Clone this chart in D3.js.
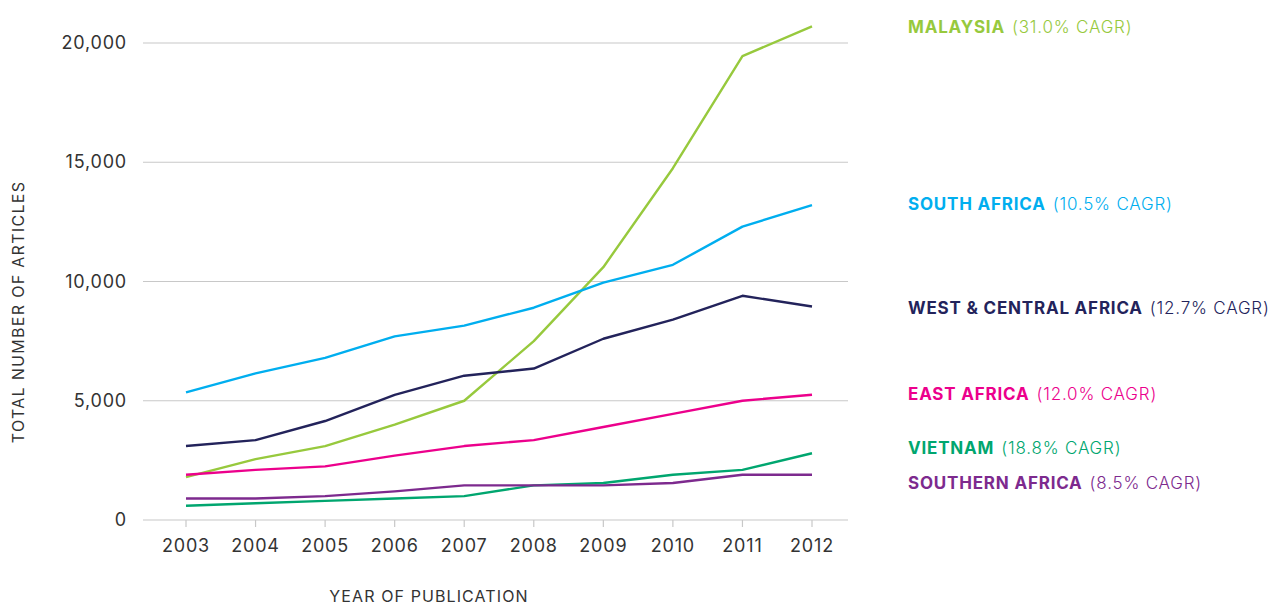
<!DOCTYPE html>
<html>
<head>
<meta charset="utf-8">
<script src="https://cdn.jsdelivr.net/npm/d3@7"></script>
<style>
  body { margin: 0; background: #fff; }
  svg { display: block; font-family: Inter, "Noto Sans", sans-serif; }
</style>
</head>
<body>
<svg id="chart" width="1272" height="605"></svg>
<script>
// data
const years = [2003, 2004, 2005, 2006, 2007, 2008, 2009, 2010, 2011, 2012]
const yTicks = [0, 5000, 10000, 15000, 20000]

const malaysia       = [1800, 2550, 3100, 4000, 5000, 7500, 10600, 14750, 19450, 20700]
const southAfrica    = [5350, 6150, 6800, 7700, 8150, 8900, 9950, 10700, 12300, 13200]
const westCentral    = [3100, 3350, 4150, 5250, 6050, 6350, 7600, 8400, 9400, 8950]
const eastAfrica     = [1900, 2100, 2250, 2700, 3100, 3350, 3900, 4450, 5000, 5250]
const vietnam        = [600, 700, 800, 900, 1000, 1450, 1550, 1900, 2100, 2800]
const southernAfrica = [900, 900, 1000, 1200, 1450, 1450, 1450, 1550, 1900, 1900]

const seriesNames = ['MALAYSIA', 'SOUTH AFRICA', 'WEST & CENTRAL AFRICA', 'EAST AFRICA', 'VIETNAM', 'SOUTHERN AFRICA']
const cagr = ['(31.0% CAGR)', '(10.5% CAGR)', '(12.7% CAGR)', '(12.0% CAGR)', '(18.8% CAGR)', '(8.5% CAGR)']
const seriesValues = [malaysia, southAfrica, westCentral, eastAfrica, vietnam, southernAfrica]
const colors = ['#97c93d', '#00aeef', '#23235b', '#ec008c', '#00a66f', '#7d2a8e']
// legend baselines, pixels
const legendY = [33, 210, 314, 400, 454, 489]

// layout
const X0 = 143, X1 = 848
const Y0 = 520, Y1 = 43

const svg = d3.select('#chart')

const x = d3.scalePoint()
    .domain(years)
    .range([186, 812])

const y = d3.scaleLinear()
    .domain([0, 20000])
    .range([Y0, Y1])

// gridlines
svg.append('g')
    .selectAll('line')
    .data(yTicks)
    .join('line')
    .attr('x1', X0)
    .attr('x2', X1)
    .attr('y1', d => y(d))
    .attr('y2', d => y(d))
    .attr('stroke', '#c8c8c8')
    .attr('stroke-width', 1.2)

// y tick labels
svg.append('g')
    .selectAll('text')
    .data(yTicks)
    .join('text')
    .attr('x', 127)
    .attr('y', d => y(d) + 6)
    .attr('text-anchor', 'end')
    .style('font-size', '18px')
    .style('letter-spacing', '0.8px')
    .style('fill', '#333')
    .text(d => d3.format(',')(d))

// x axis ticks + labels
const xg = svg.append('g').attr('transform', `translate(0, ${Y0})`)
xg.selectAll('line')
    .data(years)
    .join('line')
    .attr('x1', d => x(d))
    .attr('x2', d => x(d))
    .attr('y1', 0)
    .attr('y2', 7)
    .attr('stroke', '#c8c8c8')
    .attr('stroke-width', 1.2)

xg.selectAll('text')
    .data(years)
    .join('text')
    .attr('x', d => x(d))
    .attr('y', 32)
    .attr('text-anchor', 'middle')
    .style('font-size', '18px')
    .style('letter-spacing', '0.8px')
    .style('fill', '#333')
    .text(d => d)

// axis titles
svg.append('text')
    .attr('x', 429)
    .attr('y', 602)
    .attr('text-anchor', 'middle')
    .style('font-size', '16px')
    .style('letter-spacing', '1.1px')
    .style('fill', '#333')
    .text('YEAR OF PUBLICATION')

svg.append('text')
    .attr('transform', 'translate(24, 312) rotate(-90)')
    .attr('text-anchor', 'middle')
    .style('font-size', '16px')
    .style('letter-spacing', '1.3px')
    .style('fill', '#333')
    .text('TOTAL NUMBER OF ARTICLES')

// lines
const line = d3.line()
    .x((d, i) => x(years[i]))
    .y(d => y(d))

svg.append('g')
    .selectAll('path')
    .data(seriesValues)
    .join('path')
    .attr('d', d => line(d))
    .attr('fill', 'none')
    .attr('stroke', (d, i) => colors[i])
    .attr('stroke-width', 2.4)
    .attr('stroke-linejoin', 'round')

// legend labels
const lg = svg.append('g')
seriesNames.forEach((name, i) => {
    const t = lg.append('text')
        .attr('x', 908)
        .attr('y', legendY[i])
        .style('font-size', '17px')
        .style('letter-spacing', '0.8px')
        .style('fill', colors[i])
    t.append('tspan')
        .style('font-weight', 'bold')
        .text(name)
    t.append('tspan')
        .attr('dx', 7)
        .style('font-weight', 300)
        .text(cagr[i])
})
</script>
</body>
</html>
